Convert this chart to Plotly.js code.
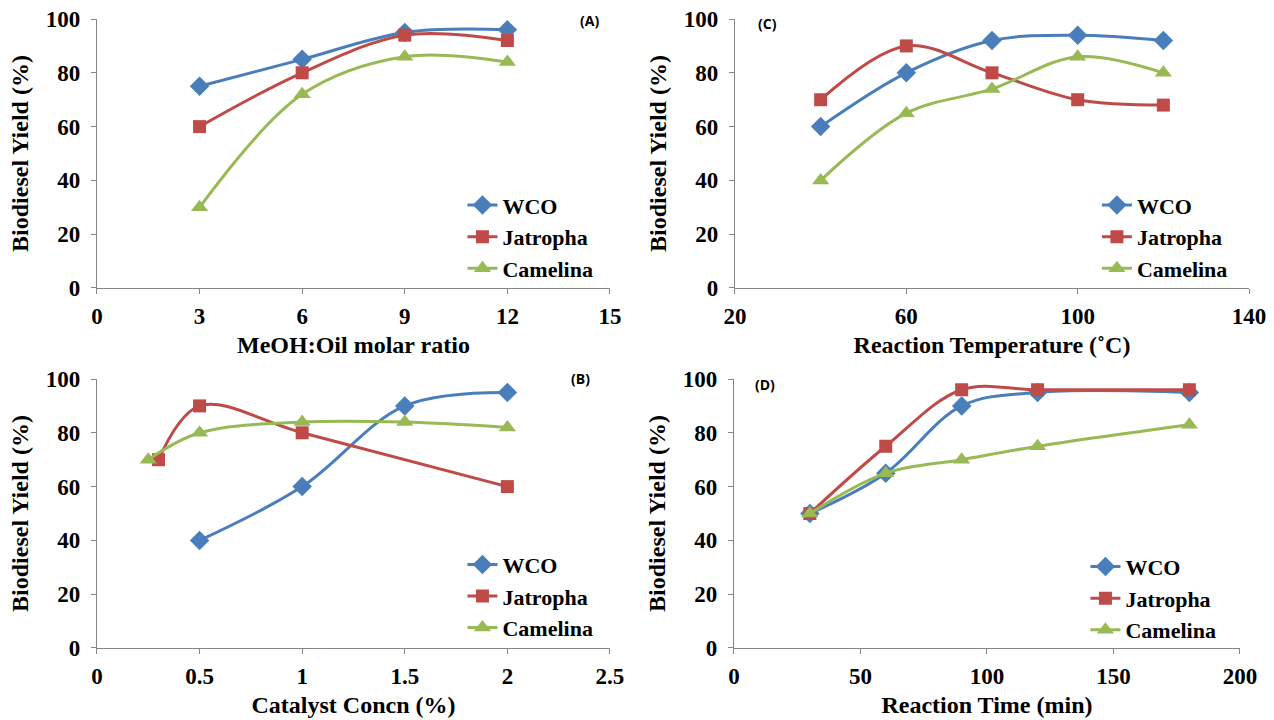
<!DOCTYPE html>
<html>
<head>
<meta charset="utf-8">
<script src="https://cdn.plot.ly/plotly-3.0.1.min.js"></script>
<style>html,body{margin:0;padding:0;background:#fff;}#chart{width:1274px;height:720px;}</style>
</head>
<body>
<div id="chart"></div>
<script>
// Panel A: MeOH:Oil molar ratio
const molarRatio = [3, 6, 9, 12];
const wcoA = [75, 85, 95, 96];
const jatrophaA = [60, 80, 94, 92];
const camelinaA = [30, 72, 86, 84];

// Panel C: Reaction temperature
const temperature = [40, 60, 80, 100, 120];
const wcoC = [60, 80, 92, 94, 92];
const jatrophaC = [70, 90, 80, 70, 68];
const camelinaC = [40, 65, 74, 86, 80];

// Panel B: Catalyst concentration
const catalystWCO = [0.5, 1, 1.5, 2];
const wcoB = [40, 60, 90, 95];
const catalystJatropha = [0.3, 0.5, 1, 2];
const jatrophaB = [70, 90, 80, 60];
const catalystCamelina = [0.25, 0.5, 1, 1.5, 2];
const camelinaB = [70, 80, 84, 84, 82];

// Panel D: Reaction time
const reactionTime = [30, 60, 90, 120, 180];
const wcoD = [50, 65, 90, 95, 95];
const jatrophaD = [50, 75, 96, 96, 96];
const camelinaD = [50, 65, 70, 75, 83];

const seriesNames = ['WCO', 'Jatropha', 'Camelina'];
const panelLabels = ['(A)', '(C)', '(B)', '(D)'];

const colors = ['#4A7EBB', '#BE4B48', '#98B954'];
const symbols = ['diamond', 'square', 'triangle-up'];
const msizes = [15, 13, 15];
const serif = 'Liberation Serif';

function tr(x, y, i, xa, ya, leg) {
  return {
    x: x, y: y, type: 'scatter', mode: 'lines+markers',
    name: seriesNames[i], xaxis: xa, yaxis: ya, legend: leg,
    line: {color: colors[i], width: 3, shape: 'spline', smoothing: 1},
    marker: {symbol: symbols[i], size: msizes[i], color: colors[i]},
    cliponaxis: false
  };
}

const data = [
  tr(molarRatio, wcoA, 0, 'x', 'y', 'legend'),
  tr(molarRatio, jatrophaA, 1, 'x', 'y', 'legend'),
  tr(molarRatio, camelinaA, 2, 'x', 'y', 'legend'),
  tr(temperature, wcoC, 0, 'x2', 'y2', 'legend2'),
  tr(temperature, jatrophaC, 1, 'x2', 'y2', 'legend2'),
  tr(temperature, camelinaC, 2, 'x2', 'y2', 'legend2'),
  tr(catalystWCO, wcoB, 0, 'x3', 'y3', 'legend3'),
  tr(catalystJatropha, jatrophaB, 1, 'x3', 'y3', 'legend3'),
  tr(catalystCamelina, camelinaB, 2, 'x3', 'y3', 'legend3'),
  tr(reactionTime, wcoD, 0, 'x4', 'y4', 'legend4'),
  tr(reactionTime, jatrophaD, 1, 'x4', 'y4', 'legend4'),
  tr(reactionTime, camelinaD, 2, 'x4', 'y4', 'legend4')
];

const tickFont = {family: serif, size: 23, color: '#000', weight: 'bold'};
const titleFont = {family: serif, size: 24, color: '#000', weight: 'bold'};

function xax(domain, range, dtick, title, anchor) {
  return {
    domain: domain, range: range, dtick: dtick, tick0: range[0], anchor: anchor,
    showgrid: false, zeroline: false, showline: true, linecolor: '#868686', linewidth: 1,
    ticks: 'outside', ticklen: 5, tickcolor: '#868686', tickfont: tickFont,
    ticklabelstandoff: 2,
    title: {text: title, font: titleFont, standoff: 8}, automargin: false
  };
}
function yax(domain, anchor) {
  return {
    domain: domain, range: [0, 100], dtick: 20, anchor: anchor,
    showgrid: false, zeroline: false, showline: true, linecolor: '#868686', linewidth: 1,
    ticks: 'outside', ticklen: 5, tickcolor: '#868686', tickfont: tickFont,
    ticklabelstandoff: 6,
    title: {text: 'Biodiesel Yield (%)', font: titleFont, standoff: 10}, automargin: false
  };
}

const legFont = {family: serif, size: 22, color: '#000', weight: 'bold'};
function leg(x, y) {
  return {x: x, y: y, xanchor: 'left', yanchor: 'top', font: legFont,
    bgcolor: 'rgba(0,0,0,0)', itemwidth: 30, tracegroupgap: 0};
}

const topY = [0.6, 0.9736];
const botY = [0.1, 0.4736];
const leftX = [0.0761, 0.4788];
const rightX = [0.5769, 0.9804];
const rightX2 = [0.5761, 0.9733];

const labelFont = {family: 'Open Sans, sans-serif', size: 14, weight: 'bold', color: '#000'};
function lab(t, px, py) {
  return {text: t, x: px / 1274, y: 1 - py / 720, xref: 'paper', yref: 'paper',
    xanchor: 'center', yanchor: 'middle', showarrow: false, font: labelFont};
}

const layout = {
  width: 1274, height: 720,
  margin: {l: 0, r: 0, t: 0, b: 0},
  paper_bgcolor: '#fff', plot_bgcolor: '#fff',
  showlegend: true,
  xaxis: xax(leftX, [0, 15], 3, 'MeOH:Oil molar ratio', 'y'),
  yaxis: yax(topY, 'x'),
  xaxis2: xax(rightX, [20, 140], 40, 'Reaction Temperature (˚C)', 'y2'),
  yaxis2: yax(topY, 'x2'),
  xaxis3: xax(leftX, [0, 2.5], 0.5, 'Catalyst Concn (%)', 'y3'),
  yaxis3: yax(botY, 'x3'),
  xaxis4: xax(rightX2, [0, 200], 50, 'Reaction Time (min)', 'y4'),
  yaxis4: yax(botY, 'x4'),
  legend: leg(0.363, 0.744),
  legend2: leg(0.861, 0.744),
  legend3: leg(0.363, 0.245),
  legend4: leg(0.852, 0.242),
  annotations: [
    lab(panelLabels[0], 589, 20),
    lab(panelLabels[1], 768, 24),
    lab(panelLabels[2], 580, 378),
    lab(panelLabels[3], 765, 384)
  ]
};

Plotly.newPlot('chart', data, layout, {displayModeBar: false, staticPlot: true});
</script>
</body>
</html>
